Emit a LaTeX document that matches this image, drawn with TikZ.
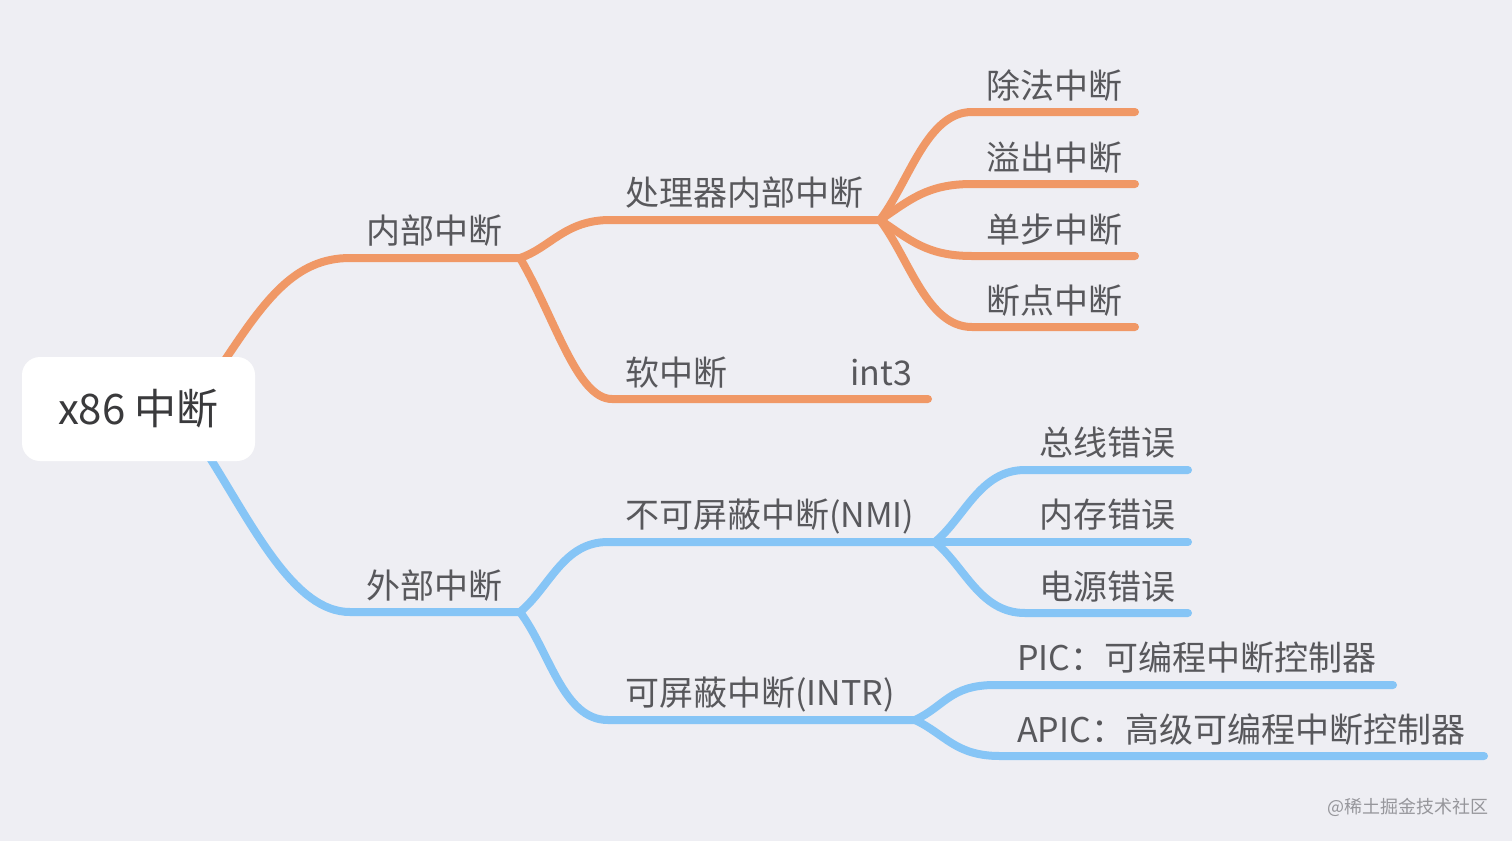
\documentclass[tikz,border=0pt]{standalone}
\usepackage{fontspec}
\setmainfont{Noto Sans CJK SC}
\usetikzlibrary{calc}
\definecolor{bg}{RGB}{238,238,243}
\definecolor{org}{RGB}{240,152,102}
\definecolor{blu}{RGB}{134,197,246}
\definecolor{txt}{RGB}{88,88,92}
\definecolor{roottxt}{RGB}{58,58,60}
\definecolor{wm}{RGB}{150,150,155}
\tikzset{
  oline/.style={draw=org,line width=8pt,line cap=round},
  bline/.style={draw=blu,line width=8pt,line cap=round},
  lbl/.style={anchor=base west,inner sep=0pt,text=txt,font=\fontsize{34}{36}\selectfont},
  rootbox/.style={fill=white,rounded corners=18pt,minimum width=233pt,minimum height=104pt,inner sep=0pt,text=roottxt,font=\fontsize{42}{46}\selectfont},
  wmark/.style={anchor=base west,inner sep=0pt,text=wm,font=\fontsize{18}{20}\selectfont},
}
\begin{document}
\begin{tikzpicture}[x=1pt,y=-1pt]
\useasboundingbox (0,0) rectangle (1512,841);
\fill[bg] (0,0) rectangle (1512,841);

% junction / end coordinates
\coordinate (r1) at (225,360);
\coordinate (r2) at (210,458);
\coordinate (a0) at (350,258);  \coordinate (j1) at (520,258);
\coordinate (b0) at (610,220);  \coordinate (j2) at (880,220);
\coordinate (c0) at (612,399);  \coordinate (c1) at (928,399);
\coordinate (l1s) at (972,112); \coordinate (l1e) at (1135,112);
\coordinate (l2s) at (972,184); \coordinate (l2e) at (1135,184);
\coordinate (l3s) at (972,256); \coordinate (l3e) at (1135,256);
\coordinate (l4s) at (972,327); \coordinate (l4e) at (1135,327);
\coordinate (d0) at (350,612);  \coordinate (j3) at (520,612);
\coordinate (e0) at (608,542);  \coordinate (j4) at (935,542);
\coordinate (f0) at (608,720);  \coordinate (j5) at (915,720);
\coordinate (m1s) at (1025,470); \coordinate (m1e) at (1188,470);
\coordinate (m2e) at (1188,542);
\coordinate (m3s) at (1025,613); \coordinate (m3e) at (1188,613);
\coordinate (p1s) at (995,685); \coordinate (p1e) at (1393,685);
\coordinate (p2s) at (1000,756); \coordinate (p2e) at (1484,756);

% orange connectors
\draw[oline] (r1) .. controls +(40,-60) and +(-55,0) .. (a0) -- (j1);
\draw[oline] (j1) .. controls +(30,-10) and +(-45,0) .. (b0) -- (j2);
\draw[oline] (j1) .. controls +(35,60) and +(-35,0) .. (c0) -- (c1);
\draw[oline] (j2) .. controls +(30,-40) and +(-45,0) .. (l1s) -- (l1e);
\draw[oline] (j2) .. controls +(30,-20) and +(-45,0) .. (l2s) -- (l2e);
\draw[oline] (j2) .. controls +(30,20) and +(-45,0) .. (l3s) -- (l3e);
\draw[oline] (j2) .. controls +(30,40) and +(-45,0) .. (l4s) -- (l4e);

% blue connectors
\draw[bline] (r2) .. controls +(45,72) and +(-55,0) .. (d0) -- (j3);
\draw[bline] (j3) .. controls +(30,-25) and +(-45,0) .. (e0) -- (j4);
\draw[bline] (j3) .. controls +(30,40) and +(-45,0) .. (f0) -- (j5);
\draw[bline] (j4) .. controls +(30,-25) and +(-45,0) .. (m1s) -- (m1e);
\draw[bline] (j4) -- (m2e);
\draw[bline] (j4) .. controls +(30,25) and +(-45,0) .. (m3s) -- (m3e);
\draw[bline] (j5) .. controls +(30,-14) and +(-45,0) .. (p1s) -- (p1e);
\draw[bline] (j5) .. controls +(30,14) and +(-45,0) .. (p2s) -- (p2e);

% root
\node[rootbox] (root) at (138.5,409) {x86 中断};

% labels
\node[lbl] (n1) at (366,243) {内部中断};
\node[lbl] (n11) at (625,205) {处理器内部中断};
\node[lbl] (n12) at (625,385) {软中断};
\node[lbl] (n12b) at (850,385) {int3};
\node[lbl] (n111) at (986,98) {除法中断};
\node[lbl] (n112) at (986,170) {溢出中断};
\node[lbl] (n113) at (986,242) {单步中断};
\node[lbl] (n114) at (986,313) {断点中断};
\node[lbl] (n2) at (366,598) {外部中断};
\node[lbl] (n21) at (625,527) {不可屏蔽中断(NMI)};
\node[lbl] (n22) at (625,705) {可屏蔽中断(INTR)};
\node[lbl] (n211) at (1039,455) {总线错误};
\node[lbl] (n212) at (1039,527) {内存错误};
\node[lbl] (n213) at (1039,599) {电源错误};
\node[lbl] (n221) at (1017,670) {PIC：可编程中断控制器};
\node[lbl] (n222) at (1017,742) {APIC：高级可编程中断控制器};

\node[wmark] (wm) at (1327,813) {@稀土掘金技术社区};
\end{tikzpicture}
\end{document}
